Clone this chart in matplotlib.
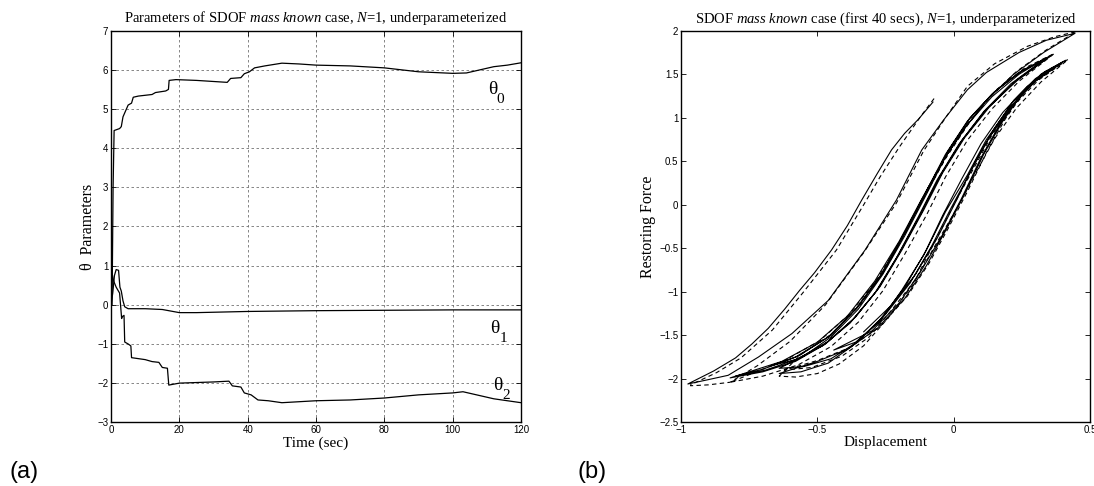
import matplotlib
matplotlib.use('Agg')
import matplotlib.pyplot as plt
from matplotlib import rcParams

rcParams['font.family'] = 'serif'
rcParams['font.serif'] = ['Liberation Serif', 'DejaVu Serif']
rcParams['mathtext.fontset'] = 'custom'
rcParams['mathtext.rm'] = 'Liberation Serif'
rcParams['mathtext.it'] = 'Liberation Serif:italic'
rcParams['axes.unicode_minus'] = True

# ---------------- panel (a): parameter histories ----------------
theta0_t = [0, 0.3, 0.6, 0.9, 2.5, 3.0, 3.5, 4.5, 5.0, 6.0, 6.5, 8, 12, 13, 16, 16.8, 17.0,
            19, 25, 34, 35, 38, 39, 40.5, 42, 45, 50, 55, 60, 70, 80, 90, 100, 104, 108,
            112, 116, 120]
theta0_v = [0, 0, 3.0, 4.45, 4.5, 4.55, 4.8, 5.0, 5.1, 5.15, 5.3, 5.33, 5.37, 5.42, 5.46,
            5.5, 5.73, 5.75, 5.73, 5.68, 5.78, 5.8, 5.9, 5.95, 6.05, 6.1, 6.17, 6.15, 6.12,
            6.1, 6.05, 5.95, 5.91, 5.92, 6.0, 6.08, 6.12, 6.18]

theta1_t = [0, 0.5, 1.0, 1.5, 2.2, 2.6, 3.0, 3.5, 4.0, 5, 10, 15, 20, 25, 40, 60, 80, 100, 120]
theta1_v = [0, 0.3, 0.75, 0.9, 0.88, 0.45, 0.35, 0.1, -0.05, -0.1, -0.1, -0.12, -0.2, -0.2,
            -0.17, -0.15, -0.14, -0.13, -0.13]

theta2_t = [0, 0.3, 0.8, 1.5, 2.5, 3.1, 3.3, 3.8, 4.0, 5.0, 5.8, 6.0, 10, 12, 14, 15, 16.5,
            16.9, 20, 30, 34.5, 35.5, 38, 39, 41, 43, 46, 50, 60, 70, 80, 90, 100, 103, 107,
            112, 116, 120]
theta2_v = [0, 0.8, 0.6, 0.45, 0.3, -0.35, -0.3, -0.27, -0.95, -1.0, -1.05, -1.35, -1.4,
            -1.45, -1.47, -1.6, -1.62, -2.05, -2.0, -1.97, -1.95, -2.07, -2.1, -2.25, -2.3,
            -2.43, -2.45, -2.5, -2.45, -2.43, -2.38, -2.3, -2.25, -2.22, -2.3, -2.4, -2.45, -2.5]

a_xticks = [0, 20, 40, 60, 80, 100, 120]
a_yticks = [-3, -2, -1, 0, 1, 2, 3, 4, 5, 6, 7]

# ---------------- panel (b): restoring force loops ----------------
# solid (measured) branches, (displacement, force)
S1 = [(-0.076, 1.18), (-0.13, 0.98), (-0.18, 0.82), (-0.228, 0.63), (-0.28, 0.36), (-0.338, 0.05),
      (-0.39, -0.24), (-0.448, -0.52), (-0.51, -0.78), (-0.564, -0.98), (-0.62, -1.2),
      (-0.68, -1.42), (-0.74, -1.6), (-0.8, -1.76), (-0.88, -1.91), (-0.975, -2.06)]
S2 = [(-0.975, -2.06), (-0.9, -2.01), (-0.827, -1.96), (-0.716, -1.75), (-0.593, -1.48),
      (-0.46, -1.1), (-0.325, -0.52), (-0.21, 0.054), (-0.117, 0.63), (-0.038, 0.97),
      (0.05, 1.32), (0.12, 1.52), (0.24, 1.75), (0.34, 1.89), (0.445, 1.97)]
U0 = [(0.445, 1.97), (0.33, 1.75), (0.22, 1.5), (0.12, 1.2), (0.04, 0.88), (-0.04, 0.5),
      (-0.12, 0.05), (-0.2, -0.42), (-0.29, -0.88), (-0.39, -1.28), (-0.5, -1.58),
      (-0.63, -1.8), (-0.82, -1.99)]
A_low1 = [(-0.82, -1.99), (-0.7, -1.92), (-0.58, -1.8), (-0.47, -1.6), (-0.37, -1.32),
          (-0.28, -0.98), (-0.2, -0.56), (-0.12, -0.1), (-0.05, 0.33), (0.03, 0.74),
          (0.12, 1.1), (0.23, 1.42), (0.36, 1.72)]
A_up1 = [(0.36, 1.72), (0.25, 1.54), (0.15, 1.3), (0.06, 1.0), (-0.02, 0.62), (-0.1, 0.15),
         (-0.18, -0.33), (-0.26, -0.78), (-0.35, -1.17), (-0.45, -1.5), (-0.57, -1.74),
         (-0.7, -1.89), (-0.8, -1.97)]
A_low2 = [(-0.8, -1.97), (-0.69, -1.9), (-0.57, -1.77), (-0.46, -1.57), (-0.36, -1.29),
          (-0.27, -0.94), (-0.19, -0.52), (-0.11, -0.06), (-0.04, 0.37), (0.04, 0.77),
          (0.13, 1.12), (0.23, 1.43), (0.35, 1.7)]
A_up2 = [(0.35, 1.7), (0.24, 1.52), (0.14, 1.27), (0.05, 0.96), (-0.03, 0.58), (-0.11, 0.1),
         (-0.19, -0.38), (-0.27, -0.82), (-0.36, -1.2), (-0.46, -1.52), (-0.58, -1.75),
         (-0.67, -1.85)]
A_low3 = [(-0.67, -1.85), (-0.58, -1.78), (-0.48, -1.62), (-0.38, -1.36), (-0.29, -1.02),
          (-0.21, -0.61), (-0.13, -0.14), (-0.06, 0.29), (0.02, 0.7), (0.11, 1.07),
          (0.21, 1.39), (0.34, 1.69)]
A_up3 = [(0.34, 1.69), (0.24, 1.5), (0.14, 1.24), (0.05, 0.92), (-0.03, 0.55), (-0.1, 0.12),
         (-0.18, -0.36), (-0.26, -0.8), (-0.35, -1.2), (-0.45, -1.52), (-0.55, -1.74),
         (-0.64, -1.88)]
B_low1 = [(-0.64, -1.88), (-0.55, -1.86), (-0.45, -1.77), (-0.35, -1.57), (-0.25, -1.26),
          (-0.16, -0.9), (-0.08, -0.47), (-0.01, -0.04), (0.06, 0.37), (0.13, 0.77),
          (0.21, 1.12), (0.3, 1.42), (0.41, 1.66)]
B_up1 = [(0.41, 1.66), (0.33, 1.52), (0.25, 1.27), (0.18, 0.96), (0.11, 0.58), (0.04, 0.12),
         (-0.03, -0.3), (-0.1, -0.7), (-0.18, -1.08), (-0.28, -1.42), (-0.39, -1.66),
         (-0.5, -1.8), (-0.64, -1.94)]
B_low2 = [(-0.64, -1.94), (-0.56, -1.92), (-0.46, -1.82), (-0.37, -1.62), (-0.27, -1.32),
          (-0.18, -0.95), (-0.1, -0.52), (-0.03, -0.08), (0.05, 0.34), (0.12, 0.75),
          (0.2, 1.1), (0.29, 1.4), (0.4, 1.64)]
B_up2 = [(0.4, 1.64), (0.32, 1.5), (0.24, 1.24), (0.17, 0.93), (0.1, 0.54), (0.03, 0.08),
         (-0.04, -0.34), (-0.12, -0.76), (-0.2, -1.13), (-0.3, -1.45), (-0.44, -1.67)]
B_low3 = [(-0.44, -1.67), (-0.36, -1.58), (-0.27, -1.34), (-0.19, -0.98), (-0.11, -0.58),
          (-0.04, -0.12), (0.03, 0.3), (0.1, 0.7), (0.18, 1.06), (0.27, 1.36), (0.38, 1.6)]
B_up3 = [(0.38, 1.6), (0.3, 1.45), (0.22, 1.2), (0.15, 0.88), (0.08, 0.5), (0.01, 0.05),
         (-0.06, -0.38), (-0.14, -0.8), (-0.23, -1.16), (-0.33, -1.46)]

# dashed (model) branches
D_S1 = [(-0.072, 1.22), (-0.12, 1.02), (-0.2, 0.66), (-0.27, 0.32), (-0.33, 0.0),
        (-0.43, -0.52), (-0.55, -1.0), (-0.665, -1.44), (-0.78, -1.76), (-0.87, -1.93),
        (-0.965, -2.07)]
D_S2 = [(-0.965, -2.08), (-0.9, -2.07), (-0.82, -2.04), (-0.72, -1.85), (-0.6, -1.57),
        (-0.47, -1.15), (-0.33, -0.55), (-0.21, 0.02), (-0.11, 0.62), (-0.03, 1.0),
        (0.05, 1.36), (0.15, 1.62), (0.27, 1.82), (0.37, 1.93), (0.45, 1.99)]
D_U0 = [(0.45, 1.99), (0.34, 1.78), (0.23, 1.53), (0.13, 1.23), (0.05, 0.91), (-0.03, 0.53),
        (-0.11, 0.08), (-0.19, -0.39), (-0.28, -0.85), (-0.38, -1.25), (-0.49, -1.56),
        (-0.62, -1.79), (-0.82, -2.04)]
D_A_low = [(-0.82, -2.04), (-0.7, -1.97), (-0.57, -1.84), (-0.45, -1.63), (-0.35, -1.35),
           (-0.26, -0.99), (-0.18, -0.57), (-0.1, -0.12), (-0.03, 0.32), (0.05, 0.74),
           (0.14, 1.1), (0.24, 1.42), (0.37, 1.74)]
D_A_up = [(0.37, 1.74), (0.26, 1.57), (0.16, 1.33), (0.07, 1.03), (-0.01, 0.66), (-0.09, 0.2),
          (-0.17, -0.28), (-0.25, -0.74), (-0.34, -1.14), (-0.44, -1.47), (-0.56, -1.72),
          (-0.64, -1.97)]
D_B_low = [(-0.64, -1.97), (-0.58, -1.98), (-0.5, -1.94), (-0.42, -1.83), (-0.33, -1.62),
           (-0.24, -1.3), (-0.15, -0.92), (-0.07, -0.48), (0.01, -0.05), (0.08, 0.36),
           (0.15, 0.76), (0.23, 1.11), (0.32, 1.41), (0.42, 1.67)]
D_B_up = [(0.42, 1.67), (0.34, 1.54), (0.26, 1.3), (0.19, 0.99), (0.12, 0.6), (0.05, 0.15),
          (-0.02, -0.27), (-0.09, -0.67), (-0.17, -1.05), (-0.27, -1.4), (-0.38, -1.64),
          (-0.5, -1.79), (-0.62, -1.9)]
D_B_low2 = [(-0.62, -1.9), (-0.52, -1.87), (-0.41, -1.74), (-0.31, -1.52), (-0.23, -1.22),
            (-0.14, -0.86), (-0.07, -0.43), (0.0, 0.0), (0.07, 0.4), (0.14, 0.8),
            (0.22, 1.14), (0.31, 1.43), (0.41, 1.65)]

solid_path = [S1, S2, U0, A_low1, A_up1, A_low2, A_up2, A_low3, A_up3,
              B_low1, B_up1, B_low2, B_up2, B_low3, B_up3]
dashed_path = [D_S1, D_S2, D_U0, D_A_low, D_A_up, D_B_low, D_B_up, D_B_low2]

b_xticks = [-1, -0.5, 0, 0.5]
b_xticklabels = ['\u22121', '\u22120.5', '0', '0.5']
b_yticks = [-2.5, -2, -1.5, -1, -0.5, 0, 0.5, 1, 1.5, 2]
b_yticklabels = ['\u22122.5', '\u22122', '\u22121.5', '\u22121', '\u22120.5', '0', '0.5',
                 '1', '1.5', '2']


def join(branches):
    xs, ys = [], []
    for br in branches:
        for x, y in br:
            xs.append(x)
            ys.append(y)
    return xs, ys


def matlab_axes(ax):
    ax.tick_params(direction='in', top=True, right=True, length=3.5, width=0.6,
                   labelsize=7, pad=2)
    for lab in ax.get_xticklabels() + ax.get_yticklabels():
        lab.set_fontfamily('Liberation Sans')
    for sp in ax.spines.values():
        sp.set_linewidth(1.0)


fig = plt.figure(figsize=(10.94, 4.86), dpi=100)
ax1 = fig.add_axes([0.1015, 0.1311, 0.3748, 0.8058])
ax2 = fig.add_axes([0.6225, 0.1311, 0.3739, 0.8058])

# panel (a)
ax1.plot(theta0_t, theta0_v, color='black', lw=0.9)
ax1.plot(theta1_t, theta1_v, color='black', lw=0.9)
ax1.plot(theta2_t, theta2_v, color='black', lw=0.9)
ax1.set_xlim(0, 120)
ax1.set_ylim(-3, 7)
ax1.set_xticks(a_xticks)
ax1.set_yticks(a_yticks)
ax1.set_yticklabels([str(v).replace('-', '\u2212') for v in a_yticks])
ax1.grid(True, color='0.45', linestyle=(0, (3, 3)), linewidth=0.6)
matlab_axes(ax1)
ax1.set_title(r'Parameters of SDOF $\it{mass\ known}$ case, $\it{N}$=1, underparameterized',
              fontsize=10.5, pad=6)
ax1.set_xlabel('Time (sec)', fontsize=11, labelpad=1)
ax1.set_ylabel('\u03b8  Parameters', fontsize=11.5, labelpad=1)

for name, sub, t, v in [('\u03b8', '0', 111.6, 5.5), ('\u03b8', '1', 112.4, -0.6),
                        ('\u03b8', '2', 113.2, -2.05)]:
    ax1.text(t, v, name, fontsize=14, ha='center', va='center')
    ax1.text(t + 2.4, v - 0.27, sub, fontsize=11, ha='center', va='center')

# panel (b)
sx, sy = join(solid_path)
dx, dy = join(dashed_path)
ax2.plot(dx, dy, color='black', lw=0.8, linestyle=(0, (4, 3)))
ax2.plot(sx, sy, color='black', lw=0.8)
ax2.set_xlim(-1, 0.5)
ax2.set_ylim(-2.5, 2)
ax2.set_xticks(b_xticks)
ax2.set_xticklabels(b_xticklabels)
ax2.set_yticks(b_yticks)
ax2.set_yticklabels(b_yticklabels)
matlab_axes(ax2)
ax2.set_title(r'SDOF $\it{mass\ known}$ case (first 40 secs), $\it{N}$=1, underparameterized',
              fontsize=10.5, pad=6)
ax2.set_xlabel('Displacement', fontsize=11, labelpad=1)
ax2.set_ylabel('Restoring Force', fontsize=11.5, labelpad=2)

fig.text(0.009, 0.029, '(a)', fontsize=17, family='Liberation Sans', va='center')
fig.text(0.528, 0.029, '(b)', fontsize=17, family='Liberation Sans', va='center')

fig.savefig('out.png', dpi=100)
